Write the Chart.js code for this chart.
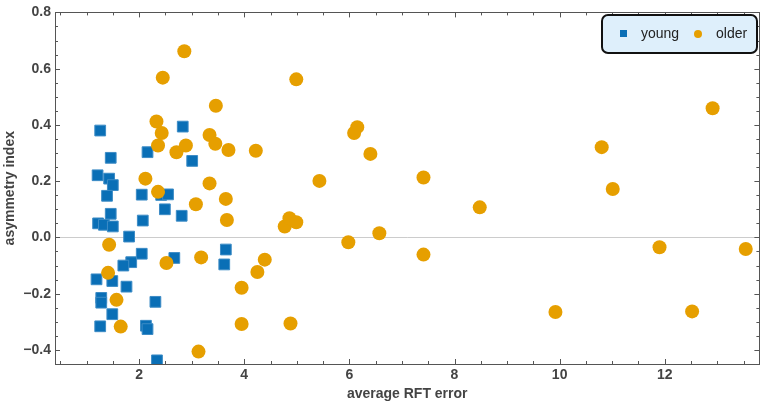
<!DOCTYPE html>
<html>
<head>
<meta charset="utf-8">
<script src="https://cdn.jsdelivr.net/npm/chart.js@4"></script>
<style>
  html, body { margin: 0; padding: 0; background: #fff; }
</style>
</head>
<body>
<canvas id="chart" width="768" height="406"></canvas>
<script>
const youngX = [1.26, 1.46, 2.83, 2.16, 3.01, 1.21, 1.43, 1.50, 1.39, 2.05, 2.42, 2.55, 2.49, 2.81, 1.46, 2.07,
  1.22, 1.33, 1.50, 1.81, 2.05, 2.67, 1.85, 1.70, 1.19, 1.49, 1.76, 1.28, 1.28, 2.31, 1.49, 1.26, 2.13, 2.16,
  2.34, 3.65, 3.62];
const youngY = [0.380, 0.283, 0.394, 0.303, 0.272, 0.221, 0.209, 0.186, 0.148, 0.152, 0.151, 0.153, 0.100, 0.077,
  0.084, 0.060, 0.050, 0.045, 0.039, 0.003, -0.058, -0.073, -0.088, -0.100, -0.149, -0.155, -0.175, -0.215,
  -0.232, -0.229, -0.273, -0.316, -0.314, -0.326, -0.437, -0.043, -0.096];

const olderX = [2.86, 2.45, 3.46, 2.33, 2.43, 2.36, 2.71, 2.89, 3.34, 3.45, 3.70, 4.22, 2.12, 2.36, 3.34, 3.65,
  3.08, 3.67, 1.43, 2.52, 3.18, 1.41, 1.57, 1.65, 3.13, 3.95, 3.95, 4.25, 4.39, 4.77, 4.86, 4.99, 4.88, 5.98,
  6.57, 7.41, 8.48, 4.99, 6.15, 6.09, 6.40, 5.43, 7.41, 12.91, 10.80, 11.01, 11.90, 13.54, 9.92, 12.52];
const olderY = [0.662, 0.568, 0.468, 0.412, 0.371, 0.327, 0.303, 0.327, 0.364, 0.333, 0.311, 0.308, 0.209, 0.162,
  0.192, 0.137, 0.118, 0.062, -0.026, -0.091, -0.071, -0.126, -0.222, -0.317, -0.406, -0.179, -0.308, -0.123,
  -0.079, 0.039, 0.068, 0.054, -0.306, -0.017, 0.015, -0.061, 0.107, 0.562, 0.392, 0.371, 0.297, 0.201, 0.213,
  0.459, 0.321, 0.172, -0.035, -0.041, -0.265, -0.263];

const xTicks = [2, 4, 6, 8, 10, 12];
const yTicks = [-0.4, -0.2, 0, 0.2, 0.4, 0.6, 0.8];
const yTickLabels = ['\u22120.4', '\u22120.2', '0.0', '0.2', '0.4', '0.6', '0.8'];

const BLUE = '#0a6fb6';
const ORANGE = '#e69f00';
const FONT = "'Liberation Sans', Arial, sans-serif";

const toPoints = (xs, ys) => xs.map((x, i) => ({ x, y: ys[i] }));

// inward tick marks on all four sides plus the frame
const frameTicks = {
  id: 'frameTicks',
  afterDraw(chart) {
    const { ctx, chartArea: a, scales: { x, y } } = chart;
    ctx.save();
    ctx.strokeStyle = '#555';
    ctx.lineWidth = 1;
    ctx.beginPath();
    for (let v = Math.ceil(x.min * 2) / 2; v <= x.max; v += 0.5) {
      const px = Math.round(x.getPixelForValue(v)) + 0.5;
      const len = Math.abs(v % 2) < 1e-6 ? 5 : 3;
      ctx.moveTo(px, a.bottom); ctx.lineTo(px, a.bottom - len);
      ctx.moveTo(px, a.top); ctx.lineTo(px, a.top + len);
    }
    for (let k = Math.ceil(y.min * 20); k <= Math.floor(y.max * 20 + 1e-6); k++) {
      const py = Math.round(y.getPixelForValue(k / 20)) + 0.5;
      const len = k % 4 === 0 ? 5 : 3;
      ctx.moveTo(a.left, py); ctx.lineTo(a.left + len, py);
      ctx.moveTo(a.right, py); ctx.lineTo(a.right - len, py);
    }
    ctx.stroke();
    ctx.strokeRect(Math.round(a.left) + 0.5, Math.round(a.top) + 0.5,
      Math.round(a.right - a.left), Math.round(a.bottom - a.top));
    ctx.restore();
  },
};

// boxed legend in the upper right corner
const boxLegend = {
  id: 'boxLegend',
  afterDraw(chart) {
    const { ctx } = chart;
    const bx = 602, by = 15, bw = 155, bh = 38;
    ctx.save();
    ctx.beginPath();
    ctx.roundRect(bx, by, bw, bh, 6);
    ctx.fillStyle = '#deeffb';
    ctx.fill();
    ctx.lineWidth = 2;
    ctx.strokeStyle = '#111';
    ctx.stroke();

    const ds = chart.data.datasets;
    ctx.font = '14px ' + FONT;
    ctx.textBaseline = 'middle';
    ctx.fillStyle = ds[0].backgroundColor;
    ctx.fillRect(620, 30, 7, 7);
    ctx.fillStyle = '#222';
    ctx.fillText(ds[0].label, 641, 34);
    ctx.beginPath();
    ctx.arc(698, 34, 4, 0, Math.PI * 2);
    ctx.fillStyle = ds[1].backgroundColor;
    ctx.fill();
    ctx.fillStyle = '#222';
    ctx.fillText(ds[1].label, 716, 34);
    ctx.restore();
  },
};

const tickFont = { family: FONT, size: 14, weight: 'bold' };

new Chart(document.getElementById('chart'), {
  type: 'scatter',
  data: {
    datasets: [
      {
        label: 'young',
        data: toPoints(youngX, youngY),
        pointStyle: 'rect',
        pointRadius: 7.6,
        backgroundColor: BLUE,
        borderColor: '#3d8cc6',
        borderWidth: 1,
        order: 2,
      },
      {
        label: 'older',
        data: toPoints(olderX, olderY),
        pointStyle: 'circle',
        pointRadius: 7,
        backgroundColor: ORANGE,
        borderWidth: 0,
        order: 1,
      },
    ],
  },
  options: {
    responsive: false,
    animation: false,
    devicePixelRatio: 1,
    layout: { padding: { top: 10, right: 4, left: 0, bottom: 0 } },
    plugins: { legend: { display: false }, tooltip: { enabled: false } },
    scales: {
      x: {
        type: 'linear',
        min: 0.4,
        max: 13.8,
        afterBuildTicks: (s) => { s.ticks = xTicks.map((v) => ({ value: v })); },
        afterFit: (s) => { s.height = 42; },
        ticks: { font: tickFont, color: '#444', padding: 3, maxRotation: 0, autoSkip: false },
        grid: { drawTicks: false, color: 'transparent' },
        border: { display: false },
        title: {
          display: true,
          text: 'average RFT error',
          font: { family: FONT, size: 14, weight: 'bold' },
          color: '#444',
          padding: { top: 0, bottom: 3 },
        },
      },
      y: {
        type: 'linear',
        min: -0.45,
        max: 0.8,
        afterBuildTicks: (s) => { s.ticks = yTicks.map((v) => ({ value: v })); },
        afterFit: (s) => { s.width = 55; },
        ticks: {
          font: tickFont,
          color: '#444',
          padding: 4,
          autoSkip: false,
          callback: (v, i) => yTickLabels[i],
        },
        grid: {
          drawTicks: false,
          color: (c) => (c.tick && c.tick.value === 0 ? '#cccccc' : 'transparent'),
        },
        border: { display: false },
        title: {
          display: true,
          text: 'asymmetry index',
          font: { family: FONT, size: 14, weight: 'bold' },
          color: '#444',
          padding: { top: 2, bottom: 0 },
        },
      },
    },
  },
  plugins: [frameTicks, boxLegend],
});
</script>
</body>
</html>
